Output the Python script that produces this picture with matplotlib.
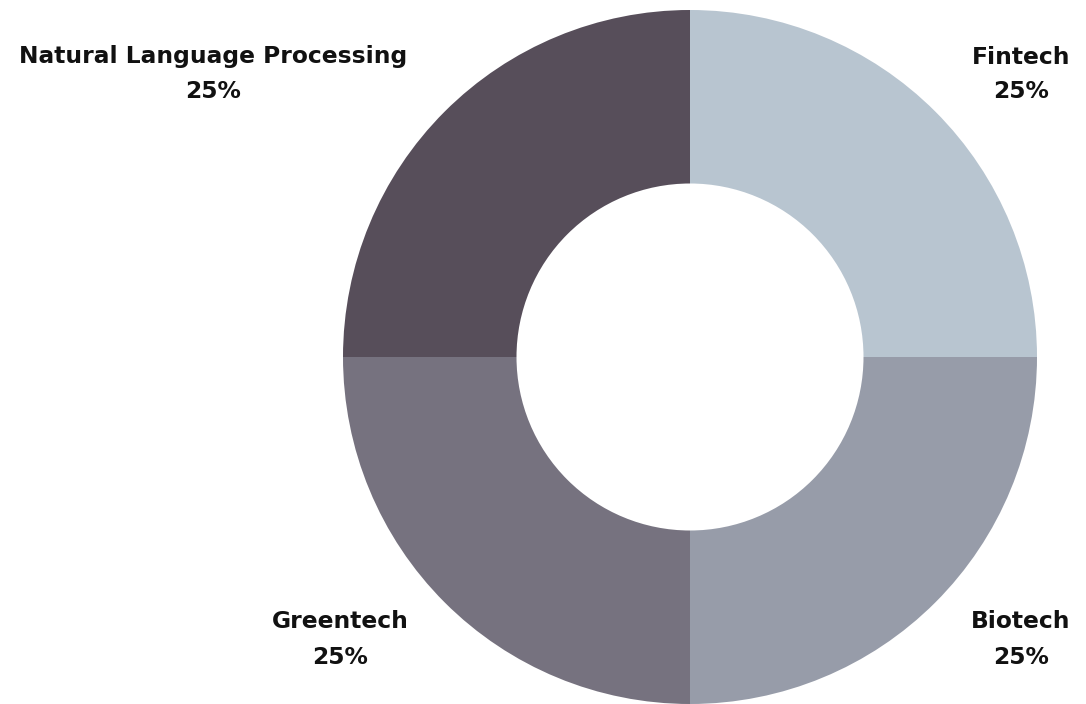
import matplotlib.pyplot as plt

sectors = ['Fintech', 'Biotech', 'Greentech', 'Natural Language Processing']
shares = [25, 25, 25, 25]
colors = ['#b8c5d0', '#979ca9', '#76727f', '#574e5a']

W, H = 1086, 704
fig = plt.figure(figsize=(W / 100, H / 100), dpi=100)

# donut axes: centre at (690, 357) px, outer radius 347 px
cx, cy, r = 690, 357, 347
ax = fig.add_axes([(cx - r) / W, (H - cy - r) / H, 2 * r / W, 2 * r / H])
ax.pie(shares, colors=colors, startangle=90, counterclock=False,
       wedgeprops=dict(width=0.5, linewidth=0), radius=1)
ax.set_xlim(-1, 1)
ax.set_ylim(-1, 1)
ax.set_aspect('equal')
ax.axis('off')

# label centres in pixel coords (x, y of first line from top)
label_pos = [(1021, 57), (1021, 622), (340, 622), (213, 57)]
txt = dict(ha='center', va='center', fontsize=16.8, fontweight='bold',
           family='DejaVu Sans', color='#111111')
for name, val, (px, py) in zip(sectors, shares, label_pos):
    fig.text(px / W, 1 - py / H, name, **txt)
    fig.text(px / W, 1 - (py + 35) / H, f'{val}%', **txt)

fig.savefig('out.png', dpi=100)
